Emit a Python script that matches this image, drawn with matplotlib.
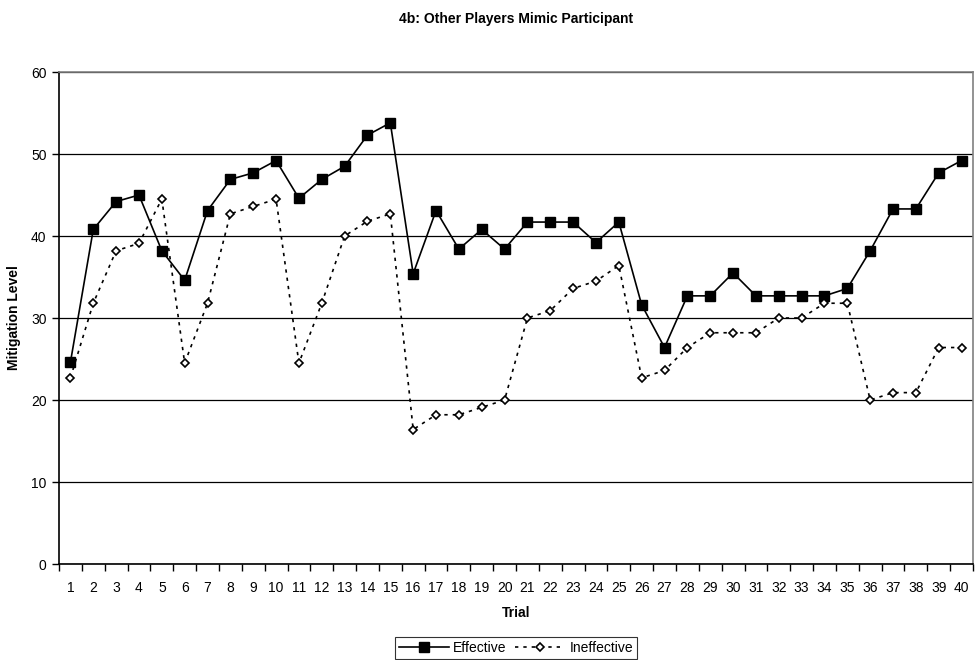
import numpy as np
import matplotlib.pyplot as plt

plt.rcParams['font.family'] = ['Liberation Sans', 'DejaVu Sans']

#Data
trials = list(range(1, 41))
effective = [24.6, 40.8, 44.2, 45.0, 38.2, 34.6, 43.1, 46.9, 47.7, 49.2,
             44.6, 46.9, 48.5, 52.3, 53.8, 35.4, 43.1, 38.4, 40.8, 38.4,
             41.7, 41.7, 41.7, 39.2, 41.7, 31.6, 26.4, 32.7, 32.7, 35.5,
             32.7, 32.7, 32.7, 32.7, 33.6, 38.2, 43.3, 43.3, 47.7, 49.2]
ineffective = [22.7, 31.8, 38.2, 39.1, 44.5, 24.5, 31.8, 42.7, 43.6, 44.5,
               24.5, 31.8, 40.0, 41.8, 42.7, 16.4, 18.2, 18.2, 19.1, 20.0,
               30.0, 30.9, 33.6, 34.5, 36.4, 22.7, 23.6, 26.4, 28.2, 28.2,
               28.2, 30.0, 30.0, 31.8, 31.8, 20.0, 20.9, 20.9, 26.4, 26.4]

fig = plt.figure(figsize=(9.76, 6.6), dpi=100)
ax = fig.add_axes([59/976, 1-564/660, (973-59)/976, (564-72)/660])

ax.plot(trials, effective, color='black', lw=1.2, marker='s', ms=6.5,
        mfc='black', mec='black', label='Effective', zorder=4)
ax.plot(trials, ineffective, color='black', lw=1.2, ls=(0, (2, 3)),
        marker='D', ms=4.5, mfc='white', mec='black', mew=1.2,
        label='Ineffective', zorder=4)

ax.set_xlim(0.5, 40.5)
ax.set_ylim(0, 60)
ax.set_yticks(range(0, 61, 10))
ax.yaxis.grid(True, color='black', lw=0.9)
ax.set_axisbelow(True)

# category labels centred, ticks on the boundaries
ax.set_xticks(np.arange(0.5, 41, 1))
ax.set_xticklabels([])
ax.set_xticks(trials, minor=True)
ax.set_xticklabels([str(t) for t in trials], minor=True)
ax.tick_params(axis='x', which='minor', length=0, pad=12, labelsize=10)
ax.tick_params(axis='x', which='major', direction='out', length=5, width=1)
ax.tick_params(axis='y', direction='out', length=5, width=1, labelsize=10, pad=4)

for s in ['top', 'right']:
    ax.spines[s].set_color('#808080')
    ax.spines[s].set_linewidth(1.2)
for s in ['left', 'bottom']:
    ax.spines[s].set_color('black')
    ax.spines[s].set_linewidth(1.2)

ax.set_xlabel('Trial', fontweight='bold', fontsize=10, labelpad=8)
ax.set_ylabel('Mitigation Level', fontweight='bold', fontsize=10, labelpad=7)
fig.text(516/976, 1-19/660, '4b: Other Players Mimic Participant',
         ha='center', va='center', fontweight='bold', fontsize=10)

leg = fig.legend(loc='center', bbox_to_anchor=(516/976, 1-648/660), ncol=2,
                 frameon=True, fancybox=False, edgecolor='black',
                 fontsize=10, handlelength=3.6, columnspacing=0.6,
                 handletextpad=0.3, borderpad=0.3)
leg.get_frame().set_linewidth(0.8)

plt.savefig('out.png', dpi=100)
